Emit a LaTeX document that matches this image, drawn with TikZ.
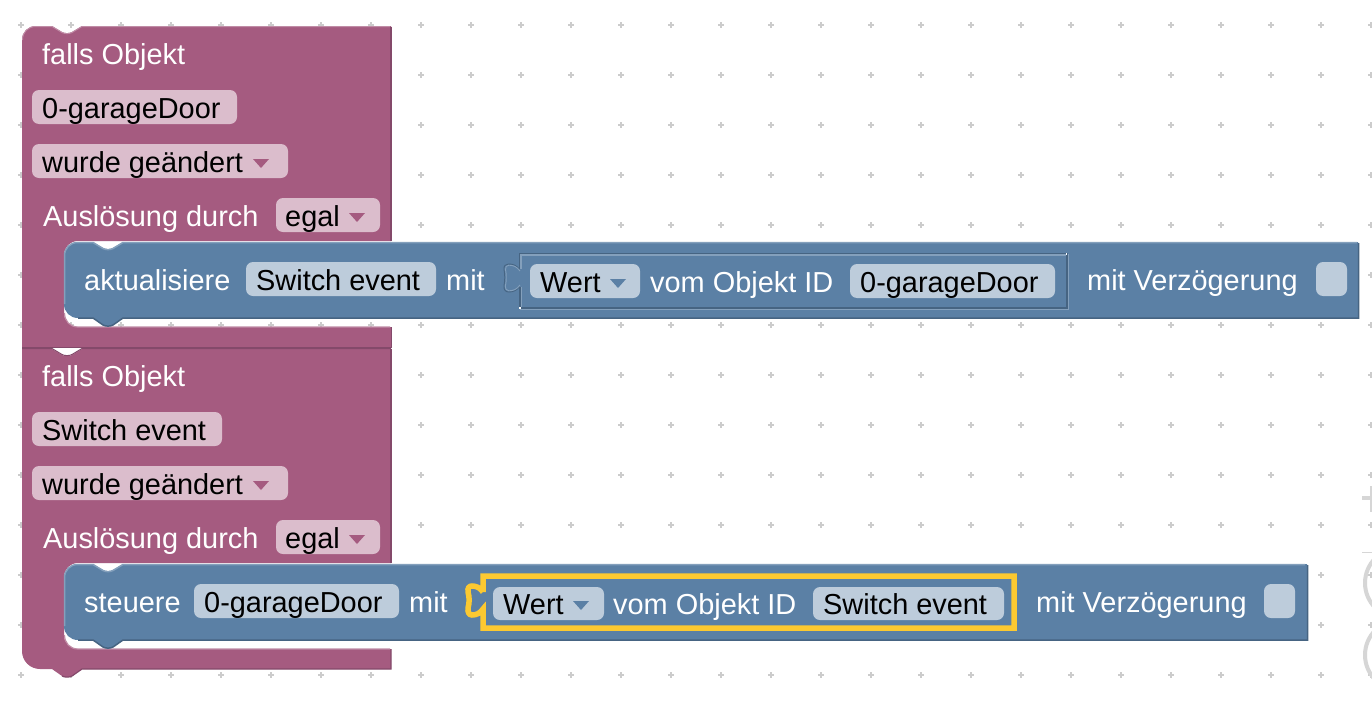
\documentclass[tikz,border=0pt]{standalone}
\usepackage{fontspec}
\setmainfont{Liberation Sans}
\definecolor{pur}{HTML}{A55B80}
\definecolor{purd}{HTML}{84496A}
\definecolor{purl}{HTML}{C08CA6}
\definecolor{purf}{HTML}{DBBDCC}
\definecolor{blu}{HTML}{5B80A5}
\definecolor{blud}{HTML}{466482}
\definecolor{blul}{HTML}{84A0BC}
\definecolor{bluf}{HTML}{BDCCDB}
\definecolor{hl}{HTML}{FCC931}
\definecolor{gr}{HTML}{CCCCCC}
\definecolor{grl}{HTML}{D6D6D6}
\newcommand{\fs}{\fontsize{28.9}{30}\selectfont}
\tikzset{
 x=1pt,y=-1pt,
 lbl/.style={anchor=base west,inner sep=0pt,font=\fs,text=white},
 val/.style={anchor=base west,inner sep=0pt,font=\fs,text=black},
 pfield/.style={fill=purf,rounded corners=7pt},
 bfield/.style={fill=bluf,rounded corners=7pt},
 ptri/.style={fill=pur},
 btri/.style={fill=blu},
}
\begin{document}
\begin{tikzpicture}
\useasboundingbox (0,0) rectangle (1372,720);
\fill[white] (0,0) rectangle (1372,720);
% grid
\foreach \i in {0,...,27}{\foreach \j in {0,...,13}{
  \pgfmathsetmacro{\cx}{21+50*\i}\pgfmathsetmacro{\cy}{25+50*\j}
  \fill[gr] (\cx-3,\cy-.8) rectangle (\cx+3,\cy+.8);
  \fill[gr] (\cx-.8,\cy-3) rectangle (\cx+.8,\cy+3);
}}
% zoom controls
\begin{scope}
\clip (1340,470) rectangle (1372,700);
\fill[grl] (1362,496) rectangle (1372,500);
\fill[grl] (1369.5,486) rectangle (1372,512);
\draw[grl,line width=.8pt] (1362,552) -- (1372,552);
\draw[grl,line width=4pt] (1400,583) circle[radius=35];
\draw[grl,line width=4pt] (1400,655) circle[radius=35];
\end{scope}
% purple block 1
\fill[pur] (22,40) .. controls (22,32) and (28,26) .. (36,26) -- (52,26) -- (62,32) .. controls (65,33.5) and (69,33.5) .. (72,32) -- (82,26) -- (391,26) -- (391,241) -- (78,241) .. controls (70,241) and (64,247) .. (64,255) -- (64,313) .. controls (64,321) and (70,327) .. (78,327) -- (391,327) -- (391,347) -- (22,347) -- cycle;
\draw[purl,line width=1pt] (22.5,40) .. controls (22.5,32) and (28,26.5) .. (36,26.5) -- (52,26.5) -- (62,32.5) .. controls (65,34) and (69,34) .. (72,32.5) -- (82,26.5) -- (390,26.5);
\draw[purd,line width=1.2pt] (391,27) -- (391,241);
\draw[purd,line width=1pt] (391,327) -- (391,347) -- (22,347);
\draw[purl,line width=1.2pt] (64.5,313) .. controls (64.5,321) and (70,327) .. (78,327) -- (390,327);
% purple block 2
\fill[pur] (22,349) -- (52,349) -- (62,355) .. controls (65,356.5) and (69,356.5) .. (72,355) -- (82,349) -- (391,349) -- (391,563) -- (78,563) .. controls (70,563) and (64,569) .. (64,577) -- (64,635) .. controls (64,643) and (70,649) .. (78,649) -- (391,649) -- (391,669) -- (82,669) -- (72,676) .. controls (69,677.5) and (65,677.5) .. (62,676) -- (52,669) -- (40,669) .. controls (30,669) and (22,661) .. (22,651) -- cycle;
\draw[purd,line width=1pt] (22,348.5) -- (52,348.5) -- (62,354.5) .. controls (65,356) and (69,356) .. (72,354.5) -- (82,348.5) -- (391,348.5);
\draw[purd,line width=1.2pt] (391,349) -- (391,563);
\draw[purd,line width=1.2pt] (391,649) -- (391,669) -- (82,669) -- (72,676) .. controls (69,677.5) and (65,677.5) .. (62,676);
\draw[purl,line width=1.2pt] (64.5,635) .. controls (64.5,643) and (70,649) .. (78,649) -- (390,649);
% fields purple
\fill[pfield] (32,90) rectangle (237,124);
\fill[pfield] (32,144) rectangle (288,178);
\fill[pfield] (276,198) rectangle (380,232);
\fill[ptri] (253,159) -- (269,159) -- (261,168) -- cycle;
\fill[ptri] (349,213) -- (365,213) -- (357,222) -- cycle;
\node[lbl] (t1) at (42,64) {falls Objekt};
\node[val] (v1) at (42,118) {0-garageDoor};
\node[val] (v2) at (42,172) {wurde geändert};
\node[lbl] (t2) at (43,226) {Auslösung durch};
\node[val] (v3) at (285,226.5) {egal};
\fill[pfield] (32,412) rectangle (222,446);
\fill[pfield] (32,466) rectangle (288,500);
\fill[pfield] (276,520) rectangle (380,554);
\fill[ptri] (253,481) -- (269,481) -- (261,490) -- cycle;
\fill[ptri] (349,535) -- (365,535) -- (357,544) -- cycle;
\node[lbl] (t3) at (42,386) {falls Objekt};
\node[val] (v4) at (42,440) {Switch event};
\node[val] (v5) at (42,494) {wurde geändert};
\node[lbl] (t4) at (43,548) {Auslösung durch};
\node[val] (v6) at (285,548.5) {egal};
% blue block 1
\fill[blu] (64,256) .. controls (64,248) and (70,242) .. (78,242) -- (93,242) -- (103,248) .. controls (106,249.5) and (110,249.5) .. (113,248) -- (123,242) -- (1358,242) -- (1358,318) -- (123,318) -- (113,325) .. controls (110,326.5) and (106,326.5) .. (103,325) -- (93,318) -- (78,318) .. controls (70,318) and (64,312) .. (64,304) -- cycle;
\draw[blul,line width=1.5pt] (64.5,304) -- (64.5,256) .. controls (64.5,248) and (70,242.5) .. (78,242.5) -- (93,242.5) -- (103,248.5) .. controls (106,250) and (110,250) .. (113,248.5) -- (123,242.5) -- (1357,242.5);
\draw[blud,line width=1.5pt] (78,318) -- (93,318) -- (103,325) .. controls (106,326.5) and (110,326.5) .. (113,325) -- (123,318) -- (1358.5,318) -- (1358.5,243);
% blue block 2
\fill[blu] (64,578) .. controls (64,570) and (70,564) .. (78,564) -- (93,564) -- (103,570) .. controls (106,571.5) and (110,571.5) .. (113,570) -- (123,564) -- (1307,564) -- (1307,640) -- (123,640) -- (113,647) .. controls (110,648.5) and (106,648.5) .. (103,647) -- (93,640) -- (78,640) .. controls (70,640) and (64,634) .. (64,626) -- cycle;
\draw[blul,line width=1.5pt] (64.5,626) -- (64.5,578) .. controls (64.5,570) and (70,564.5) .. (78,564.5) -- (93,564.5) -- (103,570.5) .. controls (106,572) and (110,572) .. (113,570.5) -- (123,564.5) -- (1305,564.5);
\draw[blud,line width=1.5pt] (78,640) -- (93,640) -- (103,647) .. controls (106,648.5) and (110,648.5) .. (113,647) -- (123,640) -- (1307.5,640) -- (1307.5,565);
% inner value block 1
\draw[blul,line width=1.2pt] (521,269) -- (521,255) -- (1068.5,255) -- (1068.5,309.5) -- (521,309.5) -- (521,287);
\draw[blud,line width=1.2pt] (519.5,269) -- (519.5,253.5) -- (1067,253.5) -- (1067,308) -- (520,308) -- (520,287);
\draw[blud,line width=.9pt] (519.5,269.5) .. controls (516.5,265) and (512.5,264) .. (508.5,264) .. controls (505.5,264) and (503.5,266) .. (504,269.5) .. controls (505,274.5) and (505,280.5) .. (504,285.5) .. controls (503.5,289.5) and (505.5,292) .. (508.5,292) .. controls (512.5,292) and (516.5,291) .. (519.5,286.5);
\draw[blul,line width=.9pt] (520,271) .. controls (517,266.5) and (513,265.2) .. (509,265.2) .. controls (506.5,265.2) and (505.2,267) .. (505.5,269.5) .. controls (506.5,274.5) and (506.5,280.5) .. (505.5,285.5) .. controls (505.2,289) and (506.5,290.8) .. (509,290.8) .. controls (513,290.8) and (517,289.5) .. (520,285);
\fill[white] (519,307) rectangle (521,309);
\fill[white] (1065.5,253) rectangle (1067,255);
% inner value block 2: highlight
\draw[hl,line width=5.5pt,miter limit=10] (483,592) -- (483,576) -- (1014,576) -- (1014,628) -- (483,628) -- (483,609) .. controls (480,613.5) and (476,615) .. (472,615) .. controls (469,615) and (467.5,612) .. (468,608) .. controls (469.5,603) and (469.5,597) .. (468,592) .. controls (467.5,588) and (469,586) .. (472,586) .. controls (476,586) and (480,587.5) .. (483,592);
% fields blue
\fill[bfield] (246,262) rectangle (436,296);
\fill[bfield] (530,264) rectangle (640,298);
\fill[bfield] (850,264) rectangle (1055,298);
\fill[bfield] (1316,262) rectangle (1347,296);
\fill[btri] (610,279) -- (626,279) -- (618,288) -- cycle;
\node[lbl] (a1) at (84,290) {aktualisiere};
\node[val] (a2) at (256,290) {Switch event};
\node[lbl] (a3) at (446,290) {mit};
\node[val] (a4) at (540,292.5) {Wert};
\node[lbl] (a5) at (650,292) {vom Objekt ID};
\node[val] (a6) at (860,292.5) {0-garageDoor};
\node[lbl] (a7) at (1087,290) {mit Verzögerung};
\fill[bfield] (194,584) rectangle (399,618);
\fill[bfield] (493,587) rectangle (604,620);
\fill[bfield] (813,587) rectangle (1004,620);
\fill[bfield] (1264,584) rectangle (1295,618);
\fill[btri] (573,601) -- (589,601) -- (581,610) -- cycle;
\node[lbl] (b1) at (84,612) {steuere};
\node[val] (b2) at (204,612) {0-garageDoor};
\node[lbl] (b3) at (409,612) {mit};
\node[val] (b4) at (503,614) {Wert};
\node[lbl] (b5) at (613,614) {vom Objekt ID};
\node[val] (b6) at (823,614) {Switch event};
\node[lbl] (b7) at (1036,612) {mit Verzögerung};
\end{tikzpicture}
\end{document}
